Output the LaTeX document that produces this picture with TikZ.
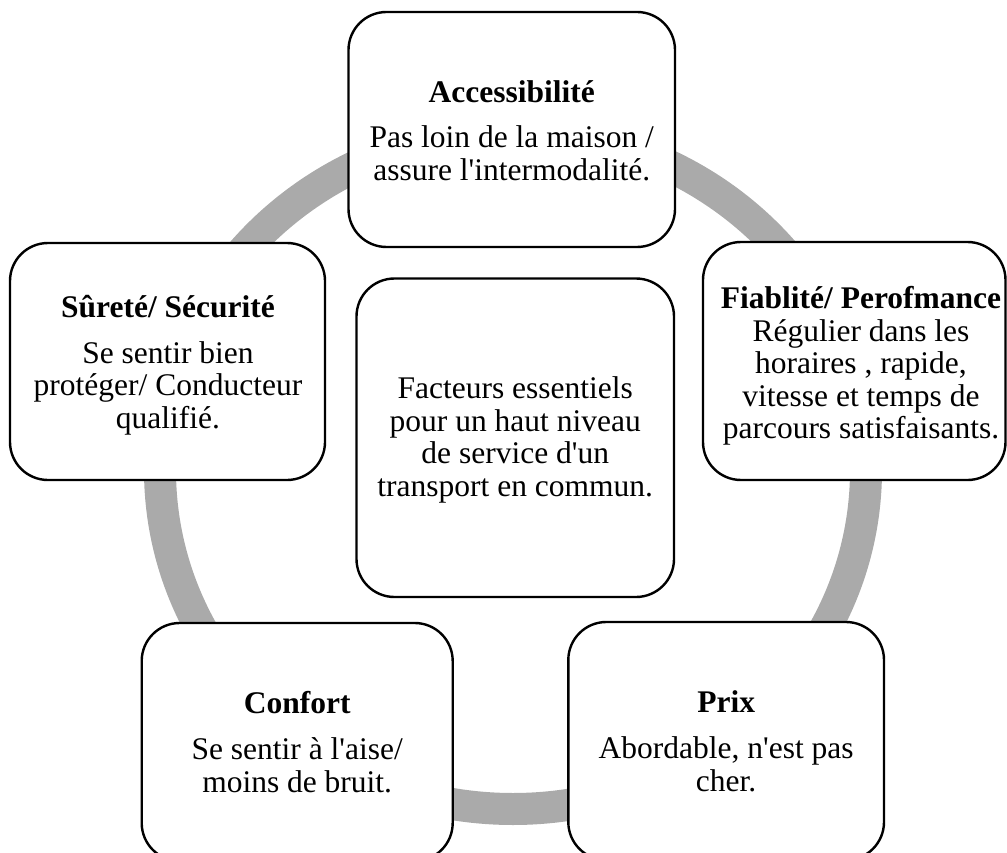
\documentclass[tikz,border=0pt]{standalone}
\usepackage{fontspec}
\setmainfont{Liberation Serif}[Ligatures=TeXOff]
\definecolor{ringgray}{RGB}{170,170,170}
\begin{document}
\begin{tikzpicture}[x=1pt,y=-1pt,
  box/.style={draw=black, line width=2.4pt, fill=white, rounded corners=38pt,
    inner sep=0pt},
  txt/.style={inner sep=0pt, align=center, font=\fontsize{31.5}{32.6}\selectfont}]
\useasboundingbox (0,0) rectangle (1007,853);
\draw[ringgray, line width=32pt] (513,470) ellipse [x radius=353, y radius=339];

\node[box, minimum width=326.5pt, minimum height=235pt] (acc) at (511.75,129.5) {};
\node[txt] (acct) at (511.75,130.5)
  {\textbf{Accessibilité}\\[12.5pt]Pas loin de la maison /\\assure l'intermodalité.};
\node[box, minimum width=315pt, minimum height=237pt] (sur) at (167.5,361.5) {};
\node[txt] (surt) at (168,365)
  {\textbf{Sûreté/ Sécurité}\\[13.4pt]Se sentir bien\\protéger/ Conducteur\\qualifié.};
\node[box, minimum width=317.5pt, minimum height=318.5pt] (cen) at (515.25,437.75) {};
\node[txt] (cent) at (515.25,440)
  {Facteurs essentiels\\pour un haut niveau\\de service d'un\\transport en commun.};
\node[box, minimum width=302.5pt, minimum height=238pt] (fia) at (854.25,361) {};
\node[txt] (fiat) at (861,366)
  {\textbf{Fiablité/ Perofmance}\\Régulier dans les\\horaires , rapide,\\vitesse et temps de\\parcours satisfaisants.};
\node[box, minimum width=311pt, minimum height=238pt] (con) at (297.2,742) {};
\node[txt] (cont) at (297.2,742)
  {\textbf{Confort}\\[13.8pt]Se sentir à l'aise/\\moins de bruit.};
\node[box, minimum width=315.7pt, minimum height=238pt] (pri) at (726.15,741) {};
\node[txt] (prit) at (726.15,741)
  {\textbf{Prix}\\[13.8pt]Abordable, n'est pas\\cher.};
\end{tikzpicture}
\end{document}
